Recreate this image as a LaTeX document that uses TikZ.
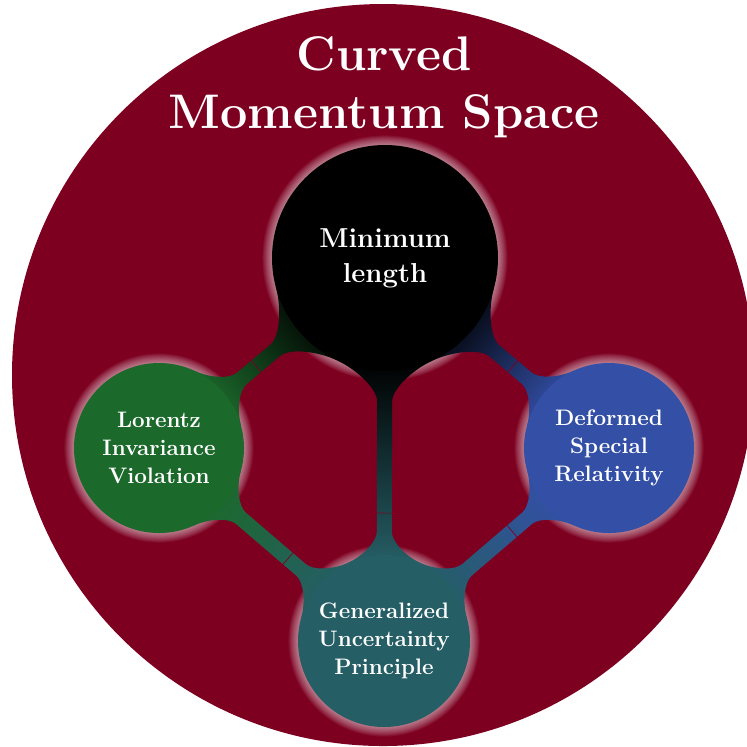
\documentclass[tikz,border=0pt]{standalone}
\usetikzlibrary{calc}

\definecolor{spacered}{RGB}{125,0,33}
\definecolor{livgreen}{RGB}{28,105,44}
\definecolor{dsrblue}{RGB}{51,79,166}
\definecolor{gupteal}{RGB}{37,94,101}

\pgfdeclarelayer{back}
\pgfdeclarelayer{halo}
\pgfdeclarelayer{bars}
\pgfsetlayers{back,halo,bars,main}

% junction angle on the concept circles and half width of the bars
\newcommand\cbAngle{25}
\newcommand\cbHalf{3.75pt}

\tikzset{
  concept/.style={circle, inner sep=0pt, text=white, align=center,
    font=\fontsize{11.2}{13.9}\selectfont\bfseries},
  main concept/.style={concept, font=\fontsize{13.7}{17.5}\selectfont\bfseries},
  title text/.style={text=white, align=center, inner sep=0pt,
    font=\fontsize{24.3}{29}\selectfont\bfseries},
  space disc/.style={circle, fill=spacered, inner sep=0pt},
  seam/.style={draw=spacered, line width=0.35pt},
  halo ring/.style={fill=white, opacity=0.05},
}

% soft light rim around a concept: #1 node, #2 radius in pt
\newcommand\cbHalo[2]{%
  \begin{pgfonlayer}{halo}
    \foreach \k in {1,...,12}{\fill[halo ring] (#1.center) circle[radius=#2pt+\k*0.4pt];}
  \end{pgfonlayer}}

% shaded connection bar between two concepts
% #1,#2 nodes, #3,#4 radii (pt), #5,#6 colours, #7 seam position
\newcommand\cbBar[7]{%
  \pgfmathsetmacro\cbRa{#3}\pgfmathsetmacro\cbRb{#4}%
  \pgfmathsetmacro\cbCua{\cbRa*cos(\cbAngle)+0.2*\cbRa*sin(\cbAngle)}%
  \pgfmathsetmacro\cbCva{\cbRa*sin(\cbAngle)-0.2*\cbRa*cos(\cbAngle)}%
  \pgfmathsetmacro\cbCub{\cbRb*cos(\cbAngle)+0.2*\cbRb*sin(\cbAngle)}%
  \pgfmathsetmacro\cbCvb{\cbRb*sin(\cbAngle)-0.2*\cbRb*cos(\cbAngle)}%
  \pgfmathsetmacro\cbQa{1.27*\cbRa}\pgfmathsetmacro\cbQb{1.27*\cbRb}%
  \pgfmathsetmacro\cbDa{1.16*\cbRa}\pgfmathsetmacro\cbDb{1.16*\cbRb}%
  \path let \p1=($(#2)-(#1)$) in
    \pgfextra{\pgfmathsetmacro\cbTmp{atan2(\y1,\x1)-90}\global\let\cbShade\cbTmp};%
  \begin{pgfonlayer}{bars}
  \shade[bottom color=#5, top color=#6, shading angle=\cbShade]
    ($(#1)!\cbRa pt!\cbAngle:(#2)$)
    .. controls ($(#1)!\cbCua pt!(#2)!\cbCva pt!90:(#2)$)
            and ($(#1)!\cbDa pt!(#2)!\cbHalf!90:(#2)$)
    .. ($(#1)!\cbQa pt!(#2)!\cbHalf!90:(#2)$)
    -- ($(#2)!\cbQb pt!(#1)!\cbHalf!-90:(#1)$)
    .. controls ($(#2)!\cbDb pt!(#1)!\cbHalf!-90:(#1)$)
            and ($(#2)!\cbCub pt!(#1)!\cbCvb pt!-90:(#1)$)
    .. ($(#2)!\cbRb pt!-\cbAngle:(#1)$)
    -- ($(#2)!\cbRb pt!\cbAngle:(#1)$)
    .. controls ($(#2)!\cbCub pt!(#1)!\cbCvb pt!90:(#1)$)
            and ($(#2)!\cbDb pt!(#1)!\cbHalf!90:(#1)$)
    .. ($(#2)!\cbQb pt!(#1)!\cbHalf!90:(#1)$)
    -- ($(#1)!\cbQa pt!(#2)!\cbHalf!-90:(#2)$)
    .. controls ($(#1)!\cbDa pt!(#2)!\cbHalf!-90:(#2)$)
            and ($(#1)!\cbCua pt!(#2)!\cbCva pt!-90:(#2)$)
    .. ($(#1)!\cbRa pt!-\cbAngle:(#2)$)
    -- cycle;
  \draw[seam] ($(#1)!#7!(#2)!\cbHalf!90:(#2)$) -- ($(#1)!#7!(#2)!\cbHalf!-90:(#2)$);
  \end{pgfonlayer}}

\begin{document}
\begin{tikzpicture}[x=0.5pt, y=-0.5pt]
  \path[use as bounding box] (0,0) rectangle (747,746);

  % the momentum-space disc
  \begin{pgfonlayer}{back}
    \clip (0,0) rectangle (747,746);
    \node[space disc, minimum size=371pt] (space) at (383,375) {};
  \end{pgfonlayer}
  \node[title text] (title) at (384,87) {Curved\\Momentum Space};

  % concepts
  \node[main concept, fill=black, minimum size=113pt] (ml) at (385,258) {Minimum\\length};
  \node[concept, fill=livgreen, minimum size=85pt] (liv) at (159,448) {Lorentz\\Invariance\\Violation};
  \node[concept, fill=dsrblue, minimum size=85pt] (dsr) at (609,448) {Deformed\\Special\\Relativity};
  \node[concept, fill=gupteal, minimum size=86pt] (gup) at (384,641) {Generalized\\Uncertainty\\Principle};

  \cbHalo{ml}{56.5}
  \cbHalo{liv}{42.5}
  \cbHalo{dsr}{42.5}
  \cbHalo{gup}{43}

  % connection bars
  \cbBar{ml}{liv}{56.5}{42.5}{black}{livgreen}{0.57}
  \cbBar{ml}{dsr}{56.5}{42.5}{black}{dsrblue}{0.57}
  \cbBar{ml}{gup}{56.5}{43}{black}{gupteal}{0.666}
  \cbBar{liv}{gup}{42.5}{43}{livgreen}{gupteal}{0.573}
  \cbBar{dsr}{gup}{42.5}{43}{dsrblue}{gupteal}{0.431}
\end{tikzpicture}
\end{document}
